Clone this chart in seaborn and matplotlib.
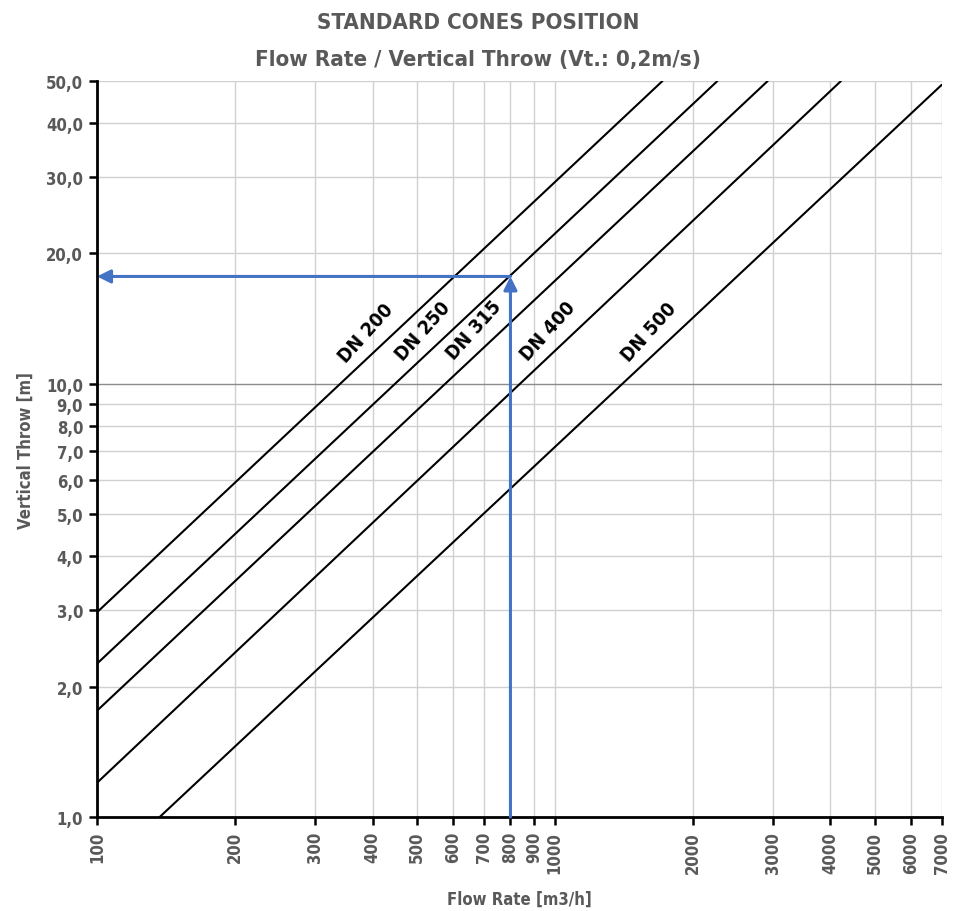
import numpy as np
import pandas as pd
import seaborn as sns
import matplotlib.pyplot as plt
from matplotlib.ticker import FixedLocator, NullLocator

# cone lines: start / end points (flow m3/h, throw m)
sizes = ['DN 200', 'DN 250', 'DN 315', 'DN 400', 'DN 500']
flow_start = [100, 100, 100, 100, 137]
throw_start = [2.97, 2.26, 1.76, 1.20, 1.0]
flow_end = [1718, 2265, 2917, 4217, 7000]
throw_end = [50, 50, 50, 50, 49]
label_flow = [412, 550, 711, 1030, 1714]

# example reading (blue arrows)
ex_flow = 800
ex_throw = 17.7

xticks = [100, 200, 300, 400, 500, 600, 700, 800, 900, 1000, 2000, 3000, 4000, 5000, 6000, 7000]
yticks = [1, 2, 3, 4, 5, 6, 7, 8, 9, 10, 20, 30, 40, 50]

sns.set_theme(style='white')
plt.rcParams['font.family'] = ['DejaVu Sans']
plt.rcParams['font.stretch'] = 'condensed'
plt.rcParams['font.weight'] = 'bold'
grey = '#595959'

rows = []
for i in range(len(sizes)):
    rows.append([sizes[i], flow_start[i], throw_start[i]])
    rows.append([sizes[i], flow_end[i], throw_end[i]])
df = pd.DataFrame(rows, columns=['size', 'flow', 'throw'])

fig = plt.figure(figsize=(9.56, 9.12), dpi=100)
ax = fig.add_axes([0.1015, 0.103, 0.8835, 0.807])

ax.set_xscale('log')
ax.set_yscale('log')
ax.set_xlim(100, 7000)
ax.set_ylim(1, 50)

# grid
for x in xticks:
    ax.axvline(x, color='#d0d0d0', lw=1.0, zorder=0)
for y in yticks:
    ax.axhline(y, color='#8c8c8c' if y == 10 else '#d0d0d0', lw=1.0, zorder=0)

sns.lineplot(data=df, x='flow', y='throw', units='size', estimator=None,
             color='black', lw=1.5, ax=ax, zorder=3)

# size labels along each line
for i in range(len(sizes)):
    lx = np.log10([flow_start[i], flow_end[i]])
    ly = np.log10([throw_start[i], throw_end[i]])
    yl = 10 ** np.interp(np.log10(label_flow[i]), lx, ly)
    ax.annotate(sizes[i], xy=(label_flow[i], yl), xytext=(-9, 11),
                textcoords='offset points', rotation=48, ha='center', va='center',
                rotation_mode='anchor', fontsize=14, fontweight='bold',
                color='black', zorder=4)

blue = '#4472C4'
ax.annotate('', xy=(ex_flow, ex_throw), xytext=(ex_flow, 1),
            arrowprops=dict(arrowstyle='-|>', color=blue, lw=2.2,
                            mutation_scale=20, shrinkA=0, shrinkB=0), zorder=5)
ax.annotate('', xy=(100, ex_throw), xytext=(ex_flow, ex_throw),
            arrowprops=dict(arrowstyle='-|>', color=blue, lw=2.2,
                            mutation_scale=20, shrinkA=0, shrinkB=0), zorder=5)

ax.xaxis.set_major_locator(FixedLocator(xticks))
ax.xaxis.set_minor_locator(NullLocator())
ax.yaxis.set_major_locator(FixedLocator(yticks))
ax.yaxis.set_minor_locator(NullLocator())
ax.set_xticklabels([str(v) for v in xticks], rotation=90, fontsize=12,
                   color=grey, fontweight='bold')
ax.set_yticklabels([('%.1f' % v).replace('.', ',') for v in yticks],
                   fontsize=12, color=grey, fontweight='bold')
ax.tick_params(axis='both', direction='out', length=6, width=1.8,
               color='black', bottom=True, left=True, pad=4)

for s in ['top', 'right']:
    ax.spines[s].set_visible(False)
for s in ['left', 'bottom']:
    ax.spines[s].set_color('black')
    ax.spines[s].set_linewidth(2)

ax.set_xlabel('Flow Rate [m3/h]', fontsize=12, color=grey, fontweight='bold', labelpad=12)
ax.set_ylabel('Vertical Throw [m]', fontsize=12, color=grey, fontweight='bold', labelpad=8)

fig.text(0.5, 0.975, 'STANDARD CONES POSITION', ha='center', va='center',
         fontsize=16, color=grey, fontweight='bold')
fig.text(0.5, 0.934, 'Flow Rate / Vertical Throw (Vt.: 0,2m/s)', ha='center',
         va='center', fontsize=16, color=grey, fontweight='bold')

fig.savefig('out.png', dpi=100)
